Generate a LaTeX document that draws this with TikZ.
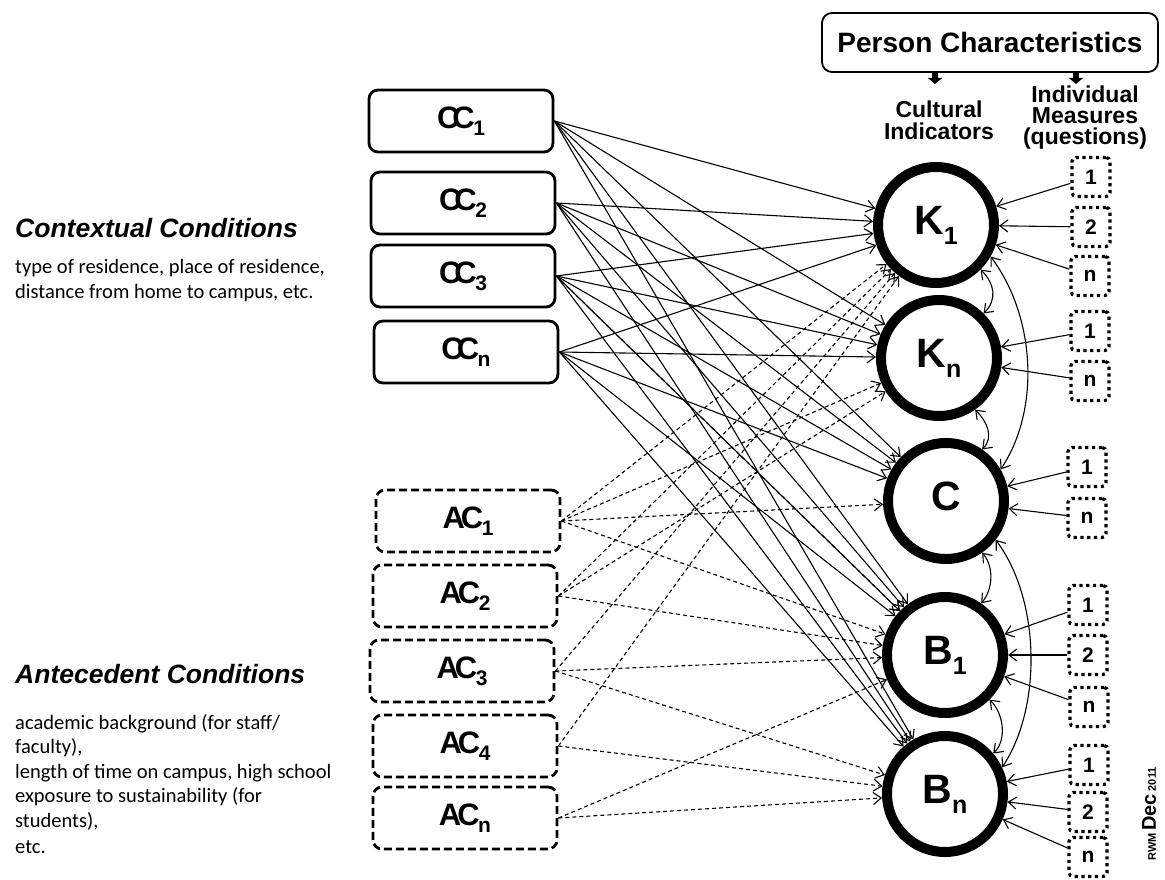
\documentclass[tikz,border=0pt]{standalone}
\usepackage{fontspec}
\setmainfont{Liberation Sans}
\newfontfamily\calib{Carlito}
\usetikzlibrary{arrows.meta}
\newcommand{\cirlab}[2]{\fontsize{41}{41}\selectfont\bfseries #1\raisebox{-10pt}{\fontsize{25}{25}\selectfont #2}}
\newcommand{\boxlab}[3]{\fontsize{31}{31}\selectfont\bfseries #1\kern#2 C\kern-1.5pt\raisebox{-7pt}{\fontsize{21}{21}\selectfont #3}}
\tikzset{
  ccbox/.style={draw, line width=2.8pt, rounded corners=9pt, minimum width=184pt, minimum height=62pt, inner sep=0pt},
  acbox/.style={ccbox, dash pattern=on 8pt off 4pt},
  circ/.style={circle, draw, line width=10pt, minimum size=116pt, inner sep=0pt},
  qbox/.style={draw, line width=3.2pt, dash pattern=on 3.2pt off 3.6pt, rounded corners=4pt, minimum width=38pt, minimum height=39pt, inner sep=0pt, font=\fontsize{21}{21}\selectfont\bfseries},
  solidarr/.style={line width=1.1pt, -{Straight Barb[length=8pt,width=12pt]}},
  dasharr/.style={solidarr, dash pattern=on 4pt off 3pt},
  biarr/.style={line width=1.1pt, {Straight Barb[length=8pt,width=12pt]}-{Straight Barb[length=8pt,width=12pt]}},
  txt/.style={inner sep=0pt, anchor=base west},
  hdr/.style={inner sep=0pt, anchor=base, font=\fontsize{23}{23}\selectfont\bfseries},
  stemarr/.style={line width=6pt, -{Triangle[length=6pt,width=14pt]}}
}
\begin{document}
\begin{tikzpicture}[x=1pt,y=-1pt]
\useasboundingbox (0,0) rectangle (1165,880);

% header
\node[draw, line width=1.8pt, rounded corners=10pt, minimum width=336pt, minimum height=59pt, font=\fontsize{28}{28}\selectfont\bfseries] (pc) at (990,42.5) {Person Characteristics};
\coordinate (a1) at (935,84);
\coordinate (a2) at (1076,84);
\draw[stemarr] (pc.south -| a1) -- (a1);
\draw[stemarr] (pc.south -| a2) -- (a2);
\node[hdr] (cul1) at (939,118) {Cultural};
\node[hdr] (cul2) at (939,140) {Indicators};
\node[hdr] (ind1) at (1085,103) {Individual};
\node[hdr] (ind2) at (1085,124) {Measures};
\node[hdr] (ind3) at (1085,145) {(questions)};

% left texts
\node[txt, font=\fontsize{26.5}{26.5}\selectfont\bfseries\itshape] (ctitle) at (15,237) {Contextual Conditions};
\node[txt, font=\calib\fontsize{20.5}{24}\selectfont] (ct1) at (15,273) {type of residence, place of residence,};
\node[txt, font=\calib\fontsize{20.5}{24}\selectfont] (ct2) at (15,298) {distance from home to campus, etc.};
\node[txt, font=\fontsize{26.5}{26.5}\selectfont\bfseries\itshape] (atitle) at (15,683) {Antecedent Conditions};
\node[txt, font=\calib\fontsize{20.5}{24}\selectfont] (at1) at (15,729) {academic background (for staff/};
\node[txt, font=\calib\fontsize{20.5}{24}\selectfont] (at2) at (15,753.5) {faculty),};
\node[txt, font=\calib\fontsize{20.5}{24}\selectfont] (at3) at (15,778) {length of time on campus, high school};
\node[txt, font=\calib\fontsize{20.5}{24}\selectfont] (at4) at (15,802.5) {exposure to sustainability (for};
\node[txt, font=\calib\fontsize{20.5}{24}\selectfont] (at5) at (15,827) {students),};
\node[txt, font=\calib\fontsize{20.5}{24}\selectfont] (at6) at (15,853) {etc.};

% CC boxes
\node[ccbox] (cc1) at (461,121) {\boxlab{C}{-7pt}{1}};
\node[ccbox] (cc2) at (463,203) {\boxlab{C}{-7pt}{2}};
\node[ccbox] (cc3) at (463,276) {\boxlab{C}{-7pt}{3}};
\node[ccbox] (ccn) at (466,352) {\boxlab{C}{-7pt}{n}};
% AC boxes
\node[acbox] (ac1) at (468,521) {\boxlab{A}{-4pt}{1}};
\node[acbox] (ac2) at (465,596) {\boxlab{A}{-4pt}{2}};
\node[acbox] (ac3) at (462,671) {\boxlab{A}{-4pt}{3}};
\node[acbox] (ac4) at (465,746) {\boxlab{A}{-4pt}{4}};
\node[acbox] (acn) at (465,818) {\boxlab{A}{-4pt}{n}};

% circles
\node[circ] (K1) at (936,225) {\cirlab{K}{1}};
\node[circ] (Kn) at (939,358) {\cirlab{K}{n}};
\node[circ] (C)  at (946,501) {\cirlab{C}{}};
\node[circ] (B1) at (945,655) {\cirlab{B}{1}};
\node[circ] (Bn) at (945,794) {\cirlab{B}{n}};

% question boxes
\node[qbox] (qK1a) at (1091,177) {1};
\node[qbox] (qK1b) at (1091,227) {2};
\node[qbox] (qK1c) at (1090,276) {n};
\node[qbox] (qKna) at (1090,331) {1};
\node[qbox] (qKnb) at (1090,381) {n};
\node[qbox] (qCa)  at (1087,467) {1};
\node[qbox] (qCb)  at (1087,518) {n};
\node[qbox] (qB1a) at (1088,605) {1};
\node[qbox] (qB1b) at (1088,655) {2};
\node[qbox] (qB1c) at (1089,707) {n};
\node[qbox] (qBna) at (1089,765) {1};
\node[qbox] (qBnb) at (1088,812) {2};
\node[qbox] (qBnc) at (1088,857) {n};

% rotated signature
\node[rotate=90, inner sep=0pt, font=\bfseries] (rwm) at (1149,814) {{\fontsize{11}{11}\selectfont RWM} {\fontsize{20}{20}\selectfont Dec} {\fontsize{11}{11}\selectfont 2011}};

% solid connectors from CC
\foreach \s in {cc1,cc2,cc3,ccn}
  \foreach \t in {K1,Kn,C,B1,Bn}
    \draw[solidarr] (\s.east) -- (\t);
\draw[dasharr] (cc3.east) -- (B1);

% dashed connectors from AC
\foreach \t in {K1,Kn,C,B1} \draw[dasharr] (ac1.east) -- (\t);
\foreach \t in {K1,Kn,B1} \draw[dasharr] (ac2.east) -- (\t);
\foreach \t in {K1,B1,Bn} \draw[dasharr] (ac3.east) -- (\t);
\foreach \t in {K1,Bn} \draw[dasharr] (ac4.east) -- (\t);
\foreach \t in {B1,Bn} \draw[dasharr] (acn.east) -- (\t);

% question arrows
\foreach \q in {qK1a,qK1b,qK1c} \draw[solidarr] (\q) -- (K1);
\foreach \q in {qKna,qKnb} \draw[solidarr] (\q) -- (Kn);
\foreach \q in {qCa,qCb} \draw[solidarr] (\q) -- (C);
\foreach \q in {qB1a,qB1b,qB1c} \draw[solidarr] (\q) -- (B1);
\foreach \q in {qBna,qBnb,qBnc} \draw[solidarr] (\q) -- (Bn);

% correlations
\draw[biarr] (K1.-45) .. controls +(14,14) and +(14,-14) .. (Kn.45);
\draw[biarr] (Kn.-55) .. controls +(12,12) and +(12,-12) .. (C.55);
\draw[biarr] (C.-55) .. controls +(12,14) and +(12,-14) .. (B1.55);
\draw[biarr] (B1.-45) .. controls +(14,14) and +(14,-14) .. (Bn.40);
\draw[biarr] (K1.-30) .. controls +(45,60) and +(40,-60) .. (C.30);
\draw[biarr] (C.-38) .. controls +(45,60) and +(40,-60) .. (Bn.25);
\end{tikzpicture}
\end{document}
